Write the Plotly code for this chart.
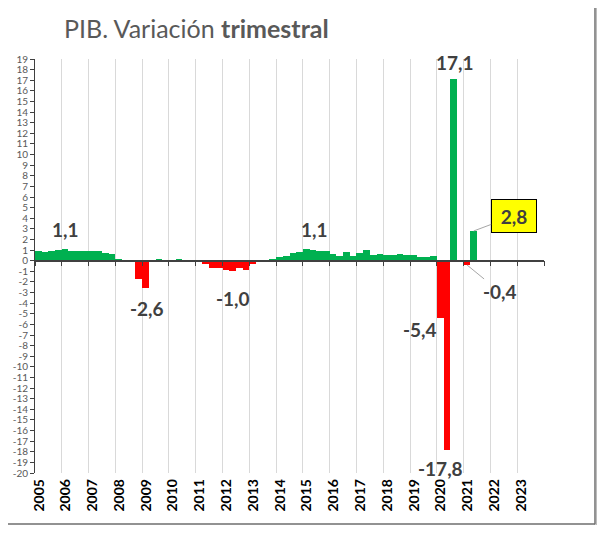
import plotly.graph_objects as go

# quarterly GDP change (%), 2005 Q1 .. 2021 Q2
years = list(range(2005, 2022))
values = [
    0.95, 0.85, 0.95, 1.0,    # 2005
    1.1, 0.95, 0.9, 0.9,      # 2006
    0.9, 0.9, 0.75, 0.6,      # 2007
    0.15, 0.05, -0.15, -1.7,  # 2008
    -2.6, -0.05, 0.2, -0.05,  # 2009
    0.05, 0.2, 0.0, 0.05,     # 2010
    -0.1, -0.3, -0.7, -0.7,   # 2011
    -0.85, -1.0, -0.7, -0.85, # 2012
    -0.35, -0.05, 0.05, 0.15, # 2013
    0.35, 0.45, 0.7, 0.8,     # 2014
    1.1, 1.0, 0.9, 0.9,       # 2015
    0.6, 0.4, 0.8, 0.45,      # 2016
    0.75, 1.0, 0.55, 0.6,     # 2017
    0.55, 0.55, 0.6, 0.55,    # 2018
    0.5, 0.35, 0.35, 0.4,     # 2019
    -5.4, -17.8, 17.1, 0.0,   # 2020
    -0.4, 2.8,                # 2021
]
year_labels = [str(y) for y in range(2005, 2024)]
y_ticks = list(range(-20, 20))

# labelled bars: (index into values, x shift px, y shift px)
labelled = [(4, 0, 20), (16, 1, -20), (29, 0, -27), (40, 8, 20),
            (62, 1, 17), (60, -20, -11), (61, -6, -19), (64, 33, -27)]
boxed = 65  # 2,8 gets the yellow box

GREEN = '#00B050'
RED = '#FF0000'
DARK = '#404040'
FONT = 'Lato, Open Sans, sans-serif'

# the page body adds an 8px margin on every side, so the figure is drawn
# from (8, 8) and kept small enough not to overflow the window
OFF = 8
W, H = 605 - OFF, 533 - 2 * OFF
# plot area in page pixels
L, R, T, B = 35, 544, 59, 473

def px(x):
  return (x - L) / (R - L)

def py(y):
  return (B - y) / (B - T)

xs = [2005 + i * 0.25 + 0.125 for i in range(len(values))]
colors = [GREEN if v >= 0 else RED for v in values]

fig = go.Figure()
fig.add_trace(go.Bar(x=xs, y=values, width=0.25,
                     marker=dict(color=colors, line=dict(width=0)),
                     hoverinfo='x+y', showlegend=False))

def fmt(v):
  return f'{v:.1f}'.replace('.', ',')

label_font = dict(family=FONT, size=19, color=DARK, weight='bold')

annotations = []
for idx, dx, dy in labelled:
  annotations.append(dict(x=xs[idx], y=values[idx], xref='x', yref='y',
                          text=fmt(values[idx]), showarrow=False,
                          xshift=dx, yshift=dy, font=label_font))

# leader line for -0,4
annotations[-1].update(showarrow=True, ax=33, ay=27, xshift=0, yshift=0,
                       arrowhead=0, arrowwidth=1, arrowcolor='#A6A6A6',
                       standoff=0)

annotations.append(dict(x=xs[boxed], y=values[boxed], xref='x', yref='y',
                        text=fmt(values[boxed]), showarrow=True,
                        ax=40, ay=-15, arrowhead=0, arrowwidth=1,
                        arrowcolor='#A6A6A6', standoff=0,
                        bgcolor='#FFFF00', bordercolor='#000000',
                        borderwidth=1, borderpad=3, width=38, height=26,
                        font=label_font))

annotations.append(dict(x=px(62), y=py(28), xref='paper', yref='paper',
                        xanchor='left', yanchor='middle', showarrow=False,
                        text='PIB. Variación <b>trimestral</b>',
                        font=dict(family=FONT, size=25, color='#595959')))

# outer frame: only the right and bottom edges show in the picture
FR = 595
shapes = [
  dict(type='line', xref='paper', yref='paper', x0=px(FR + 2.5),
       x1=px(FR + 2.5), y0=py(3), y1=py(530),
       line=dict(color='#BBBBBB', width=3)),
  dict(type='line', xref='paper', yref='paper', x0=px(FR), x1=px(FR),
       y0=py(0), y1=py(524.5), line=dict(color='#6E6E6E', width=1.5)),
  dict(type='line', xref='paper', yref='paper', x0=px(0), x1=px(FR),
       y0=py(524), y1=py(524), line=dict(color='#6E6E6E', width=1.5)),
]

zero_pos = 20 / 39

fig.update_layout(
  width=W, height=H,
  margin=dict(l=L - OFF, r=W - (R - OFF), t=T - OFF, b=H - (B - OFF),
              autoexpand=False),
  paper_bgcolor='white', plot_bgcolor='white',
  bargap=0,
  annotations=annotations,
  shapes=shapes,
  font=dict(family=FONT),
  xaxis=dict(range=[2005, 2024], anchor='free', position=zero_pos,
             tickmode='array', tickvals=list(range(2005, 2025)),
             ticktext=year_labels + [''],
             tickangle=-90, ticks='outside', ticklen=5, tickcolor=DARK,
             tickfont=dict(family=FONT, size=14, color='#000000',
                           weight='bold'),
             ticklabelstandoff=207, ticklabelshift=4,
             showline=True, linecolor=DARK, linewidth=1.5,
             showgrid=True, gridcolor='#D9D9D9', gridwidth=1,
             zeroline=False, automargin=False),
  yaxis=dict(range=[-20, 19], tickmode='array', tickvals=y_ticks,
             ticktext=[str(v) for v in y_ticks],
             ticks='outside', ticklen=4, tickcolor=DARK,
             tickfont=dict(family=FONT, size=10, color='#595959'),
             showline=True, linecolor=DARK, linewidth=1,
             showgrid=False, zeroline=False, automargin=False),
)

fig.write_html("out.html")
